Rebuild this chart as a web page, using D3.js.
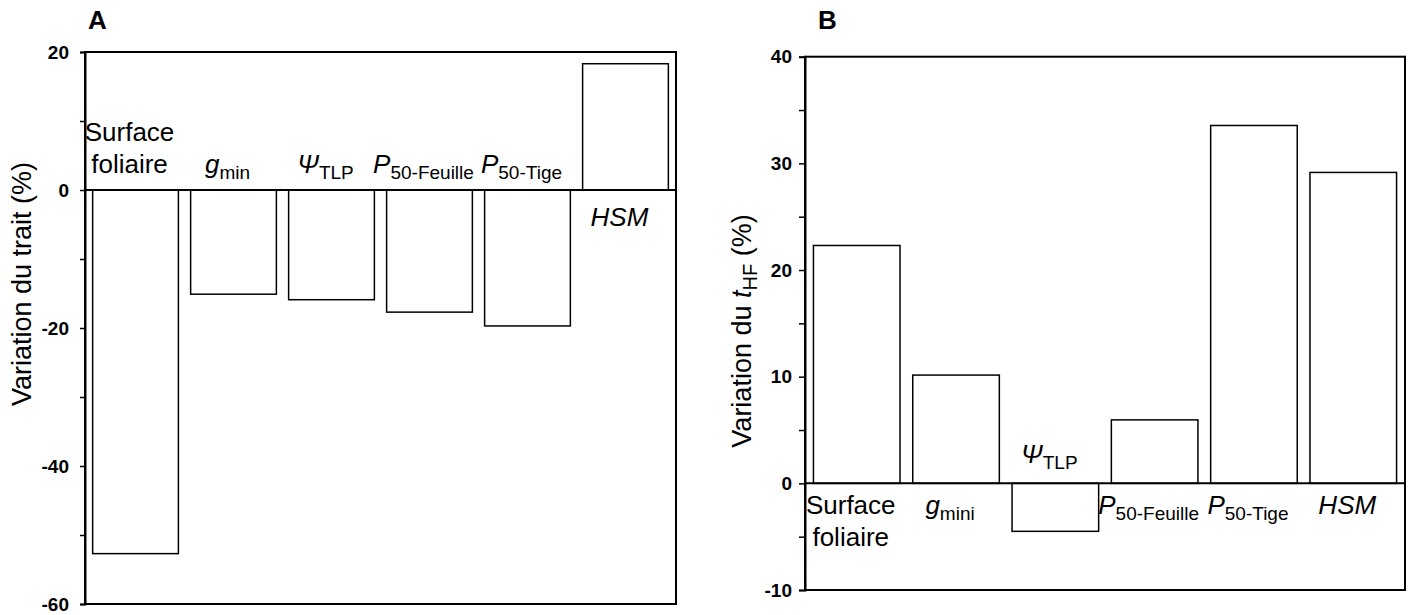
<!DOCTYPE html>
<html><head><meta charset="utf-8">
<script src="https://cdn.jsdelivr.net/npm/d3@7"></script>
<style>
body{margin:0;background:#fff;}
text{font-family:"Liberation Sans",Arial,sans-serif;fill:#000;}
</style></head>
<body><svg id="chart" width="1414" height="615"></svg>
<script>
// ---- data ----
const categories = ["Surface foliaire", "gmin", "ΨTLP", "P50-Feuille", "P50-Tige", "HSM"];
const valuesA = [-52.7, -15.1, -15.9, -17.7, -19.7, 18.3];
const valuesB = [22.3, 10.15, -4.5, 5.95, 33.55, 29.15];
const ticksA = [-60, -40, -20, 0, 20];
const minorTicksA = [-50, -30, -10, 10];
const ticksB = [-10, 0, 10, 20, 30, 40];
const minorTicksB = [-5, 5, 15, 25, 35];
const domainA = [-60, 20];
const domainB = [-10, 40];

// rich label text per category, per panel (lines of [text, style])
const richLabelsA = {
  "Surface foliaire": [[["Surface", ""]], [["foliaire", ""]]],
  "gmin": [[["g", "i"], ["min", "s"]]],
  "ΨTLP": [[["Ψ", "i"], ["TLP", "s"]]],
  "P50-Feuille": [[["P", "i"], ["50-Feuille", "s"]]],
  "P50-Tige": [[["P", "i"], ["50-Tige", "s"]]],
  "HSM": [[["HSM", "i"]]]
};
const richLabelsB = Object.assign({}, richLabelsA, {"gmin": [[["g", "i"], ["mini", "s"]]]});

const svg = d3.select("#chart");

function richText(sel, parts, mainSize, subSize, subShift) {
  let shifted = false;
  parts.forEach(([t, st]) => {
    const ts = sel.append("tspan").text(t);
    if (st === "i") ts.attr("font-style", "italic");
    if (st === "s") {
      ts.attr("font-size", subSize);
      if (!shifted) { ts.attr("dy", subShift); shifted = true; }
    } else {
      ts.attr("font-size", mainSize);
      if (shifted) { ts.attr("dy", -subShift); shifted = false; }
    }
  });
}

function panel(opt) {
  const g = svg.append("g");
  const y = d3.scaleLinear().domain(opt.domain).range([opt.y1, opt.y0]);
  const x = d3.scaleBand().domain(categories).range([opt.x0, opt.x1])
    .paddingInner(opt.pi).paddingOuter(opt.po);

  // frame
  g.append("rect").attr("x", opt.x0).attr("y", y(opt.domain[1]))
    .attr("width", opt.x1 - opt.x0).attr("height", y(opt.domain[0]) - y(opt.domain[1]))
    .attr("fill", "none").attr("stroke", "#000").attr("stroke-width", 2);

  // bars
  g.selectAll("rect.bar").data(opt.values).join("rect").attr("class", "bar")
    .attr("x", (d, i) => x(categories[i]))
    .attr("width", x.bandwidth())
    .attr("y", d => y(Math.max(0, d)))
    .attr("height", d => Math.abs(y(d) - y(0)))
    .attr("fill", "#fff").attr("stroke", "#000").attr("stroke-width", 1.5);

  // zero line
  g.append("line").attr("x1", opt.x0).attr("x2", opt.x1)
    .attr("y1", y(0)).attr("y2", y(0)).attr("stroke", "#000").attr("stroke-width", 2);

  // axis
  const ax = g.append("g").attr("transform", `translate(${opt.x0},0)`)
    .call(d3.axisLeft(y).tickValues(opt.ticks).tickSize(opt.tickLen).tickPadding(opt.tickPad).tickFormat(d => String(d)));
  ax.attr("font-size", 19).attr("font-family", '"Liberation Sans",Arial,sans-serif');
  ax.select(".domain").attr("stroke-width", 2);
  ax.selectAll(".tick line").attr("stroke-width", 1.5);
  ax.selectAll(".tick text").style("font-size", "19px").style("font-weight", "bold");
  const axm = g.append("g").attr("transform", `translate(${opt.x0},0)`)
    .call(d3.axisLeft(y).tickValues(opt.minor).tickSize(opt.tickLen).tickFormat(""));
  axm.select(".domain").remove();
  axm.selectAll(".tick line").attr("stroke-width", 1.5);

  // category labels
  categories.forEach((c, i) => {
    const v = opt.values[i];
    const lines = opt.rich[c];
    const cx = x(c) + x.bandwidth() / 2 + opt.labelDx;
    lines.forEach((parts, li) => {
      let by;
      if (v < 0) by = y(0) - opt.aboveOff - (lines.length - 1 - li) * 32;
      else by = y(0) + opt.belowOff + li * 32;
      const t = g.append("text").attr("x", cx).attr("y", by).attr("text-anchor", "middle")
        .style("font-size", "26px");
      richText(t, parts, 26, 19, 6);
    });
  });

  // y label
  const yl = g.append("text")
    .attr("transform", `translate(${opt.ylx},${opt.yly}) rotate(-90)`)
    .attr("text-anchor", "middle").style("font-size", "27px");
  richText(yl, opt.ylabel, 27, 20, 6);

  // panel letter
  g.append("text").attr("x", opt.letterX).attr("y", 29).style("font-size", "26px")
    .style("font-weight", "bold").text(opt.letter);
}

panel({
  letter: "A", letterX: 88, values: valuesA, domain: domainA,
  ticks: ticksA, minor: minorTicksA, rich: richLabelsA,
  x0: 85, x1: 676, y0: 52, y1: 604, pi: 0.125, po: 0.078,
  tickLen: 5, tickPad: 11, labelDx: -6, aboveOff: 17, belowOff: 36,
  ylx: 31, yly: 284,
  ylabel: [["Variation du trait (%)", ""]]
});
panel({
  letter: "B", letterX: 818, values: valuesB, domain: domainB,
  ticks: ticksB, minor: minorTicksB, rich: richLabelsB,
  x0: 805, x1: 1405, y0: 56.7, y1: 590, pi: 0.128, po: 0.085,
  tickLen: 6, tickPad: 7, labelDx: -6, aboveOff: 20, belowOff: 31,
  ylx: 751, yly: 331,
  ylabel: [["Variation du ", ""], ["t", "i"], ["HF", "s"], [" (%)", ""]]
});
</script></body></html>
